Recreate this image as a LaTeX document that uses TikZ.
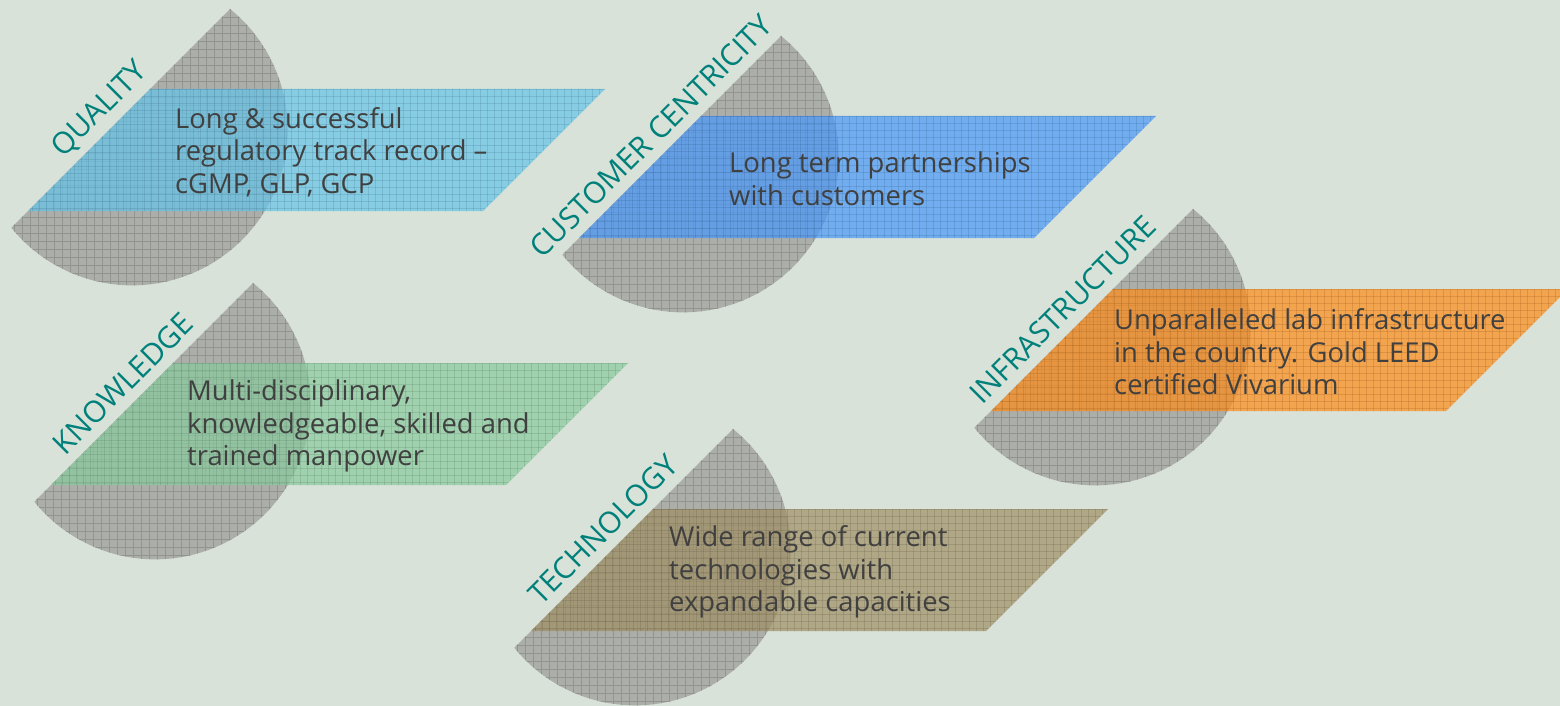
\documentclass[tikz,border=0pt]{standalone}
\usepackage{fontspec}
\setmainfont{Open Sans}
\definecolor{bgc}{RGB}{216,226,216}
\definecolor{circgray}{RGB}{172,174,170}
\definecolor{circline}{RGB}{146,148,144}
\definecolor{labteal}{RGB}{0,128,122}
\definecolor{txtgray}{RGB}{64,64,64}
\definecolor{cqual}{RGB}{100,196,233}
\definecolor{ccust}{RGB}{72,152,250}
\definecolor{cinfra}{RGB}{255,139,22}
\definecolor{cknow}{RGB}{136,203,157}
\definecolor{ctech}{RGB}{158,142,98}
\tikzset{
  segfill/.style={fill=circgray},
  segline/.style={draw=circline, line width=0.5bp},
  bandfill/.style={fill=#1, fill opacity=0.7},
  bandline/.style={draw=#1!55!black, draw opacity=0.2, line width=0.5bp},
  labelstyle/.style={text=labteal, font=\fontsize{30}{36}\selectfont, rotate=45, inner sep=0pt, anchor=center},
  bodystyle/.style={text=txtgray, font=\fontsize{27.5}{32.7}\selectfont, align=left, anchor=west, inner sep=0pt}
}
% #1,#2 top tip of the segment; #3 colour; #4 label; #5 body text; #6 text x offset; #7 name
\newcommand{\pgroup}[7]{%
  \begin{scope}[shift={(#1,#2)}]
    \fill[segfill] (0,0) arc[start angle=-51, end angle=141, radius=155.5] -- cycle;
    \begin{scope}
      \clip (0,0) arc[start angle=-51, end angle=141, radius=155.5] -- cycle;
      \foreach \g in {-256,-248,...,64} \draw[segline] (\g,-10) -- (\g,290);
      \foreach \g in {-8,0,...,288} \draw[segline] (-260,\g) -- (70,\g);
    \end{scope}
    \fill[bandfill=#3] (-80,80) -- (375,80) -- (253,202) -- (-202,202) -- cycle;
    \begin{scope}
      \clip (-80,80) -- (375,80) -- (253,202) -- (-202,202) -- cycle;
      \foreach \g in {-205,-198,...,380} \draw[bandline=#3] (\g,78) -- (\g,204);
      \foreach \g in {80,87,...,202} \draw[bandline=#3] (-205,\g) -- (380,\g);
    \end{scope}
    \node[labelstyle] (lab#7) at (-130,100.5) {#4};
    \node[bodystyle] (txt#7) at (#6,143) {#5};
  \end{scope}}
\begin{document}
\begin{tikzpicture}[x=1bp,y=-1bp]
\useasboundingbox[fill=bgc] (0,0) rectangle (1560,706);
\pgroup{230}{9}{cqual}{QUALITY}{Long \& successful\\regulatory track record –\\cGMP, GLP, GCP}{-55}{q}
\pgroup{781}{36}{ccust}{CUSTOMER CENTRICITY}{Long term partnerships\\with customers}{-52}{c}
\pgroup{1193}{209}{cinfra}{INFRASTRUCTURE}{Unparalleled lab infrastructure\\in the country. Gold LEED\\certified Vivarium}{-79}{i}
\pgroup{253}{283}{cknow}{KNOWLEDGE}{Multi-disciplinary,\\knowledgeable, skilled and\\trained manpower}{-66}{k}
\pgroup{733}{429}{ctech}{TECHNOLOGY}{Wide range of current\\technologies with\\expandable capacities}{-64}{t}
\end{tikzpicture}
\end{document}
